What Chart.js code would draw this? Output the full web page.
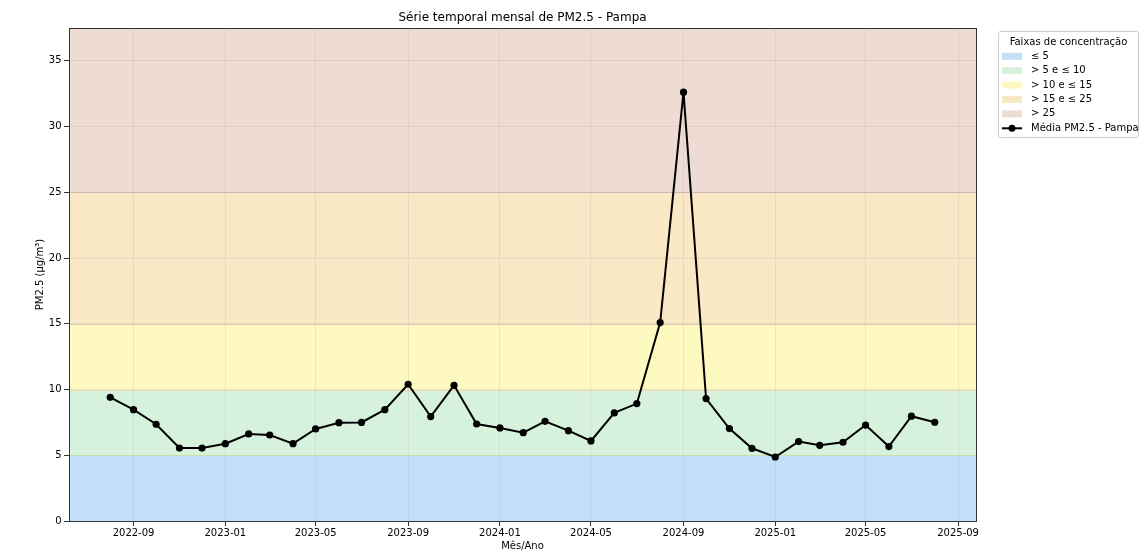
<!DOCTYPE html>
<html><head><meta charset="utf-8">
<script src="https://cdn.jsdelivr.net/npm/chart.js@4.4.0/dist/chart.umd.min.js"></script>
<style>html,body{margin:0;padding:0;background:#fff;} #wrap{width:1142px;height:554px;position:relative;}</style>
</head><body><div id="wrap"><canvas id="c" width="1142" height="554"></canvas></div>
<script>
const months = ['2022-08','2022-09','2022-10','2022-11','2022-12','2023-01','2023-02','2023-03','2023-04','2023-05','2023-06','2023-07','2023-08','2023-09','2023-10','2023-11','2023-12','2024-01','2024-02','2024-03','2024-04','2024-05','2024-06','2024-07','2024-08','2024-09','2024-10','2024-11','2024-12','2025-01','2025-02','2025-03','2025-04','2025-05','2025-06','2025-07','2025-08'];
const pm25 = [9.41,8.47,7.36,5.55,5.55,5.88,6.62,6.54,5.88,7.0,7.48,7.5,8.47,10.4,7.94,10.32,7.38,7.08,6.72,7.58,6.87,6.09,8.22,8.93,15.09,32.62,9.31,7.03,5.53,4.87,6.04,5.76,5.99,7.30,5.66,7.97,7.51];
const xTickLabels = ['2022-09','2023-01','2023-05','2023-09','2024-01','2024-05','2024-09','2025-01','2025-05','2025-09'];
const yTickValues = [0,5,10,15,20,25,30,35];
const yMax = 37.5;
const bandLimits = [0,5,10,15,25];
const bandLabels = ['≤ 5','> 5 e ≤ 10','> 10 e ≤ 15','> 15 e ≤ 25','> 25'];
const seriesLabel = 'Média PM2.5 - Pampa';
const chartTitle = 'Série temporal mensal de PM2.5 - Pampa';
const legendTitle = 'Faixas de concentração';
const xTitle = 'Mês/Ano';
const yTitle = 'PM2.5 (µg/m³)';

const bandColors = ['#c3e0fb','#d6f2dc','#fef9c1','#f8e8c6','#eedcd4'];
const bandEdges = ['#a9d8c4','#d7ecb0','#f3d8a6','#e7c7a9','#d9c4ba'];
const FONT = "'DejaVu Sans', sans-serif";

const toMs = s => Date.UTC(+s.slice(0,4), +s.slice(5,7)-1, 1);
const pad2 = n => (n<10?'0':'')+n;
const fmt = v => { const d=new Date(v); return d.getUTCFullYear()+'-'+pad2(d.getUTCMonth()+1); };
const t0 = toMs(months[0]), t1 = toMs(months[months.length-1]);
const xMin = t0 - 0.05*(t1-t0), xMax = t1 + 0.05*(t1-t0);

const bandsPlugin = {
  id:'bands',
  beforeDraw(chart){
    const {ctx, chartArea:a, scales:{y}} = chart;
    ctx.save();
    for(let i=0;i<bandLimits.length;i++){
      const lo = bandLimits[i], hi = i+1<bandLimits.length ? bandLimits[i+1] : yMax;
      const yT = y.getPixelForValue(hi), yB = y.getPixelForValue(lo);
      ctx.fillStyle = bandColors[i];
      ctx.fillRect(a.left, yT, a.right-a.left, yB-yT);
    }
    for(let i=1;i<bandLimits.length;i++){
      const yy = Math.round(y.getPixelForValue(bandLimits[i]))+0.5;
      ctx.strokeStyle = bandEdges[i];
      ctx.lineWidth = 1;
      ctx.beginPath(); ctx.moveTo(a.left,yy); ctx.lineTo(a.right,yy); ctx.stroke();
    }
    ctx.restore();
  },
  afterDraw(chart){
    const {ctx, chartArea:a} = chart;
    ctx.save();
    ctx.strokeStyle='#333'; ctx.lineWidth=1;
    ctx.strokeRect(Math.round(a.left)+0.5, Math.round(a.top)+0.5, Math.round(a.right-a.left), Math.round(a.bottom-a.top));
    ctx.fillStyle='#000'; ctx.font='12px '+FONT; ctx.textAlign='center'; ctx.textBaseline='middle';
    ctx.fillText(chartTitle, (a.left+a.right)/2, 18);
    const lx=998.5, ly=31.5, lw=140, lh=106;
    ctx.fillStyle='rgba(255,255,255,0.85)'; ctx.strokeStyle='#cccccc';
    ctx.beginPath(); ctx.roundRect(lx,ly,lw,lh,2); ctx.fill(); ctx.stroke();
    ctx.fillStyle='#000'; ctx.font='10px '+FONT; ctx.textAlign='center';
    ctx.fillText(legendTitle, lx+lw/2, 42);
    ctx.textAlign='left';
    for(let i=0;i<bandLabels.length;i++){
      const cy = 56.3 + i*14.4;
      ctx.fillStyle=bandColors[i];
      ctx.fillRect(1002, cy-3.5, 20, 7);
      ctx.fillStyle='#000';
      ctx.fillText(bandLabels[i], 1031, cy);
    }
    const cy = 56.3 + bandLabels.length*14.4;
    ctx.strokeStyle='#000'; ctx.lineWidth=2;
    ctx.beginPath(); ctx.moveTo(1002,cy); ctx.lineTo(1022,cy); ctx.stroke();
    ctx.fillStyle='#000'; ctx.beginPath(); ctx.arc(1012,cy,3.5,0,Math.PI*2); ctx.fill();
    ctx.fillText(seriesLabel, 1031, cy);
    ctx.restore();
  }
};

new Chart(document.getElementById('c'), {
  type:'line',
  data:{ datasets:[{
    label: seriesLabel,
    data: months.map((m,i)=>({x:toMs(m), y:pm25[i]})),
    borderColor:'#000', backgroundColor:'#000', borderWidth:2,
    pointRadius:3.6, pointHoverRadius:3.6, pointBackgroundColor:'#000', pointBorderWidth:0,
    tension:0, fill:false
  }]},
  options:{
    responsive:false, animation:false,
    layout:{padding:{top:28,right:166,left:0,bottom:0}},
    plugins:{legend:{display:false}, title:{display:false}, tooltip:{enabled:false}},
    scales:{
      x:{
        type:'linear', min:xMin, max:xMax,
        afterBuildTicks(s){ s.ticks = xTickLabels.map(l=>({value:toMs(l)})); },
        afterFit(s){ s.height = 33; },
        ticks:{ autoSkip:false, maxRotation:0, minRotation:0, padding:1, color:'#000', font:{family:FONT,size:10}, callback:(v)=>fmt(v) },
        grid:{ color:'rgba(140,140,140,0.16)', lineWidth:1, tickLength:5, tickColor:'#333', drawTicks:true },
        border:{ display:false },
        title:{ display:true, text:xTitle, color:'#000', font:{family:FONT,size:10}, padding:{top:0,bottom:2} }
      },
      y:{
        type:'linear', min:0, max:yMax,
        afterBuildTicks(s){ s.ticks = yTickValues.map(v=>({value:v})); },
        afterFit(s){ s.width = 69; },
        ticks:{ padding:2.5, color:'#000', font:{family:FONT,size:10} },
        grid:{ color:'rgba(140,140,140,0.16)', lineWidth:1, tickLength:5, tickColor:'#333' },
        border:{ display:false },
        title:{ display:true, text:yTitle, color:'#000', font:{family:FONT,size:10}, padding:{top:34,bottom:0} }
      }
    }
  },
  plugins:[bandsPlugin]
});
</script></body></html>
